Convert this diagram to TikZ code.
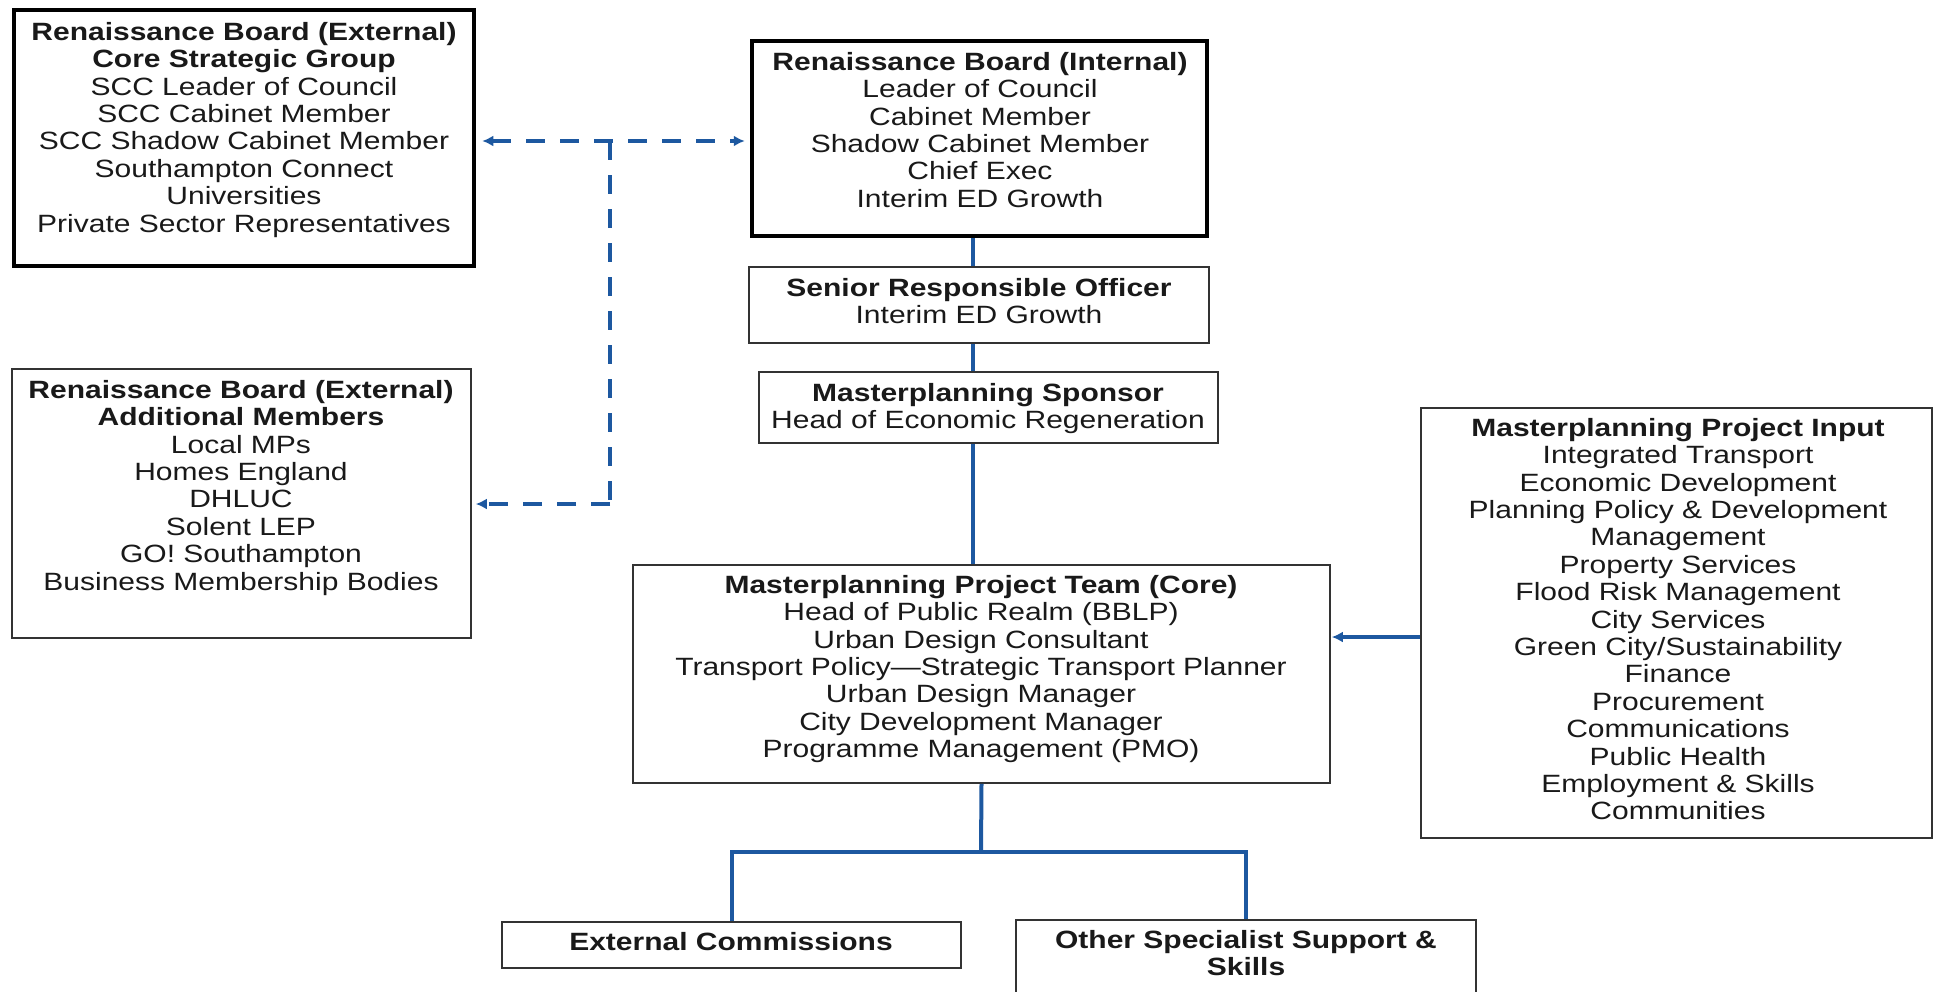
\documentclass[tikz,border=0pt]{standalone}
\usepackage{fontspec}
\setmainfont{Liberation Sans}[FakeStretch=1.2]
\usetikzlibrary{arrows.meta}
\definecolor{conn}{HTML}{1D58A0}
\definecolor{edge}{HTML}{333333}
\begin{document}
\begin{tikzpicture}[x=1pt,y=-1pt,
  box/.style={draw=edge,line width=1.6pt,inner sep=0pt,rectangle},
  thickbox/.style={draw=black,line width=4.5pt,inner sep=0pt,rectangle},
  txt/.style={anchor=north,align=center,inner sep=0pt,font=\fontsize{25}{27.4}\selectfont,text=black!90},
  link/.style={draw=conn,line width=4pt},
  dlink/.style={draw=conn,line width=4pt,dash pattern=on 19pt off 15pt},
  tipend/.style={-{Latex[length=11pt,width=11pt]}},
  tipboth/.style={{Latex[length=11pt,width=11pt]}-{Latex[length=11pt,width=11pt]}}]
\useasboundingbox (0,0) rectangle (1935,991);

% boxes
\node[thickbox,minimum width=460pt,minimum height=256pt] (b1) at (244,138) {};
\node[thickbox,minimum width=455pt,minimum height=195pt] (b2) at (979.5,138.5) {};
\node[box,minimum width=460pt,minimum height=76pt] (b3) at (979,305) {};
\node[box,minimum width=459pt,minimum height=71pt] (b4) at (988.5,407.5) {};
\node[box,minimum width=459pt,minimum height=269pt] (b5) at (241.5,503.5) {};
\node[box,minimum width=697pt,minimum height=218pt] (b6) at (981.5,674) {};
\node[box,minimum width=511pt,minimum height=430pt] (b7) at (1676.5,623) {};
\node[box,minimum width=459pt,minimum height=46pt] (b8) at (731.5,945) {};
\node[box,minimum width=460pt,minimum height=100pt] (b9) at (1246,970) {};

% texts
\node[txt] (t1) at (244,22) {\textbf{Renaissance Board (External)}\\\textbf{Core Strategic Group}\\SCC Leader of Council\\SCC Cabinet Member\\SCC Shadow Cabinet Member\\Southampton Connect\\Universities\\Private Sector Representatives};
\node[txt] (t2) at (980,52) {\textbf{Renaissance Board (Internal)}\\Leader of Council\\Cabinet Member\\Shadow Cabinet Member\\Chief Exec\\Interim ED Growth};
\node[txt] (t3) at (979,278) {\textbf{Senior Responsible Officer}\\Interim ED Growth};
\node[txt] (t4) at (988,383) {\textbf{Masterplanning Sponsor}\\Head of Economic Regeneration};
\node[txt] (t5) at (241,380) {\textbf{Renaissance Board (External)}\\\textbf{Additional Members}\\Local MPs\\Homes England\\DHLUC\\Solent LEP\\GO! Southampton\\Business Membership Bodies};
\node[txt] (t6) at (981,575) {\textbf{Masterplanning Project Team (Core)}\\Head of Public Realm (BBLP)\\Urban Design Consultant\\Transport Policy\textemdash Strategic Transport Planner\\Urban Design Manager\\City Development Manager\\Programme Management (PMO)};
\node[txt] (t7) at (1678,418) {\textbf{Masterplanning Project Input}\\Integrated Transport\\Economic Development\\Planning Policy \& Development\\Management\\Property Services\\Flood Risk Management\\City Services\\Green City/Sustainability\\Finance\\Procurement\\Communications\\Public Health\\Employment \& Skills\\Communities};
\node[txt] (t8) at (731,932) {\textbf{External Commissions}};
\node[txt] (t9) at (1246,930) {\textbf{Other Specialist Support \&}\\\textbf{Skills}};

% dashed connectors
\coordinate (j) at (610,141);
\coordinate (k) at (610,504);
\draw[dlink,tipboth,shorten <=6pt,shorten >=5pt] (b1.east |- j) -- (b2.west |- j);
\draw[dlink] (j) -- (k);
\draw[dlink,tipend,shorten >=4pt] (k) -- (b5.east |- k);

% solid connectors
\coordinate (vx) at (973,0);
\draw[link] (b2.south -| vx) -- (b3.north -| vx);
\draw[link] (b3.south -| vx) -- (b4.north -| vx);
\draw[link] (b4.south -| vx) -- (b6.north -| vx);
\coordinate (ar) at (1400,637);
\draw[link,tipend,shorten >=1pt] (b7.west |- ar) -- (b6.east |- ar);
\coordinate (fork) at (981,852);
\draw[link] (b6.south) -- (fork);
\draw[link] (b8.north) |- (fork) -| (b9.north);
\end{tikzpicture}
\end{document}
